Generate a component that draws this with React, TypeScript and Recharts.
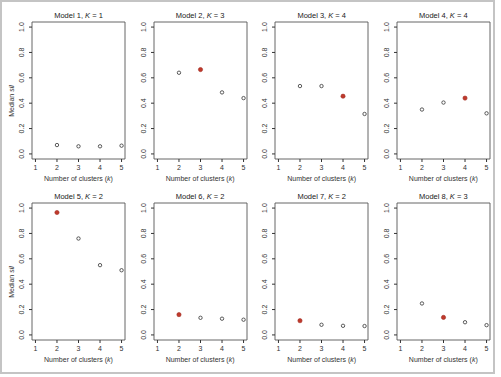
import React from 'react';
import { ScatterChart, Scatter, XAxis, YAxis, ReferenceArea } from 'recharts';

// number of clusters fitted (k) and the true K of each simulated model
const clusters = [2, 3, 4, 5];
const models = ['Model 1', 'Model 2', 'Model 3', 'Model 4', 'Model 5', 'Model 6', 'Model 7', 'Model 8'];
const trueK = [1, 3, 4, 4, 2, 2, 2, 3];

// median silhouette per model, one value per k in `clusters`
const model1 = [0.07, 0.06, 0.06, 0.065];
const model2 = [0.64, 0.665, 0.485, 0.44];
const model3 = [0.535, 0.535, 0.455, 0.315];
const model4 = [0.35, 0.405, 0.44, 0.32];
const model5 = [0.965, 0.76, 0.55, 0.51];
const model6 = [0.16, 0.135, 0.128, 0.12];
const model7 = [0.112, 0.08, 0.072, 0.07];
const model8 = [0.248, 0.138, 0.1, 0.077];
const medians = [model1, model2, model3, model4, model5, model6, model7, model8];

const xTicks = [1, 2, 3, 4, 5];
const yTicks = [0, 0.2, 0.4, 0.6, 0.8, 1.0];

const FONT = '"Liberation Sans", Arial, Helvetica, sans-serif';
const INK = '#333';
const RED = '#c0392b';

const PANEL_W = 130;
const PANEL_H = 181;
const COL_STEP = 121.6;
const ROW_STEP = 181;
const PLOT_L = 32;
const PLOT_R = 125;
const PLOT_T = 22;

// R style extended ranges (4% on each side)
const xDomain: [number, number] = [0.84, 5.16];
const yDomain: [number, number] = [-0.04, 1.04];

const XTick = (props: any) => {
  const { x, y, payload } = props;
  return (
    <text x={x} y={y + 8} textAnchor="middle" fontSize={7} fontFamily={FONT} fill={INK}>
      {payload.value}
    </text>
  );
};

const YTick = (props: any) => {
  const { x, y, payload } = props;
  const bx = x - 4.5;
  return (
    <text
      x={bx}
      y={y}
      textAnchor="middle"
      fontSize={7}
      fontFamily={FONT}
      fill={INK}
      transform={`rotate(-90, ${bx}, ${y})`}
    >
      {Number(payload.value).toFixed(1)}
    </text>
  );
};

function Panel({ idx }: { idx: number }) {
  const K = trueK[idx];
  const data = clusters.map((k, i) => ({ k, v: medians[idx][i] }));
  const col = idx % 4;
  const row = Math.floor(idx / 4);

  const shape = (p: any) => {
    const { cx, cy, payload } = p;
    if (payload.k === K) {
      return <circle cx={cx} cy={cy} r={2.1} fill={RED} stroke="#a02a20" strokeWidth={0.6} />;
    }
    return <circle cx={cx} cy={cy} r={1.7} fill="none" stroke={INK} strokeWidth={0.8} />;
  };

  return (
    <div style={{ position: 'absolute', left: col * COL_STEP, top: row * ROW_STEP }}>
      <ScatterChart width={PANEL_W} height={PANEL_H} margin={{ top: PLOT_T, right: PANEL_W - PLOT_R, bottom: 0, left: 8 }}>
        <XAxis
          type="number"
          dataKey="k"
          domain={xDomain}
          ticks={xTicks}
          allowDataOverflow
          axisLine={false}
          tickSize={3}
          tickMargin={0}
          tickLine={{ stroke: INK }}
          tick={<XTick />}
          height={22}
        />
        <YAxis
          type="number"
          dataKey="v"
          domain={yDomain}
          ticks={yTicks}
          allowDataOverflow
          axisLine={false}
          tickSize={3}
          tickMargin={0}
          tickLine={{ stroke: INK }}
          tick={<YTick />}
          width={24}
        />
        <ReferenceArea
          x1={xDomain[0]}
          x2={xDomain[1]}
          y1={yDomain[0]}
          y2={yDomain[1]}
          fill="none"
          fillOpacity={0}
          stroke="#555"
          strokeWidth={0.9}
        />
        <Scatter data={data} shape={shape} isAnimationActive={false} />
      </ScatterChart>
    </div>
  );
}

export default function App() {
  const cx = (PLOT_L + PLOT_R) / 2;
  return (
    <div style={{ position: 'absolute', left: 0, top: 0, width: 501, height: 377, background: '#fff' }}>
      <div
        style={{
          position: 'absolute',
          left: 0,
          top: 0,
          width: 495,
          height: 374,
          boxSizing: 'border-box',
          border: '2px solid #c4c4c4',
        }}
      />
      {models.map((_, i) => (
        <Panel key={i} idx={i} />
      ))}
      <svg width={501} height={377} style={{ position: 'absolute', left: 0, top: 0, pointerEvents: 'none' }}>
        {models.map((m, i) => {
          const ox = (i % 4) * COL_STEP + cx;
          const oy = Math.floor(i / 4) * ROW_STEP;
          return (
            <g key={m} fontFamily={FONT} fill="#222">
              <text x={ox} y={oy + 17.5} textAnchor="middle" fontSize={7.5}>
                {m}, <tspan fontStyle="italic">K</tspan> = {trueK[i]}
              </text>
              <text x={ox} y={oy + 180.5} textAnchor="middle" fontSize={7} fill={INK}>
                Number of clusters (<tspan fontStyle="italic">k</tspan>)
              </text>
            </g>
          );
        })}
        {[0, 1].map(r => {
          const y = r * ROW_STEP + 101;
          return (
            <text
              key={r}
              x={14}
              y={y}
              textAnchor="middle"
              fontSize={7}
              fontFamily={FONT}
              fill={INK}
              transform={`rotate(-90, 14, ${y})`}
            >
              Median <tspan fontStyle="italic">sil</tspan>
            </text>
          );
        })}
      </svg>
    </div>
  );
}
